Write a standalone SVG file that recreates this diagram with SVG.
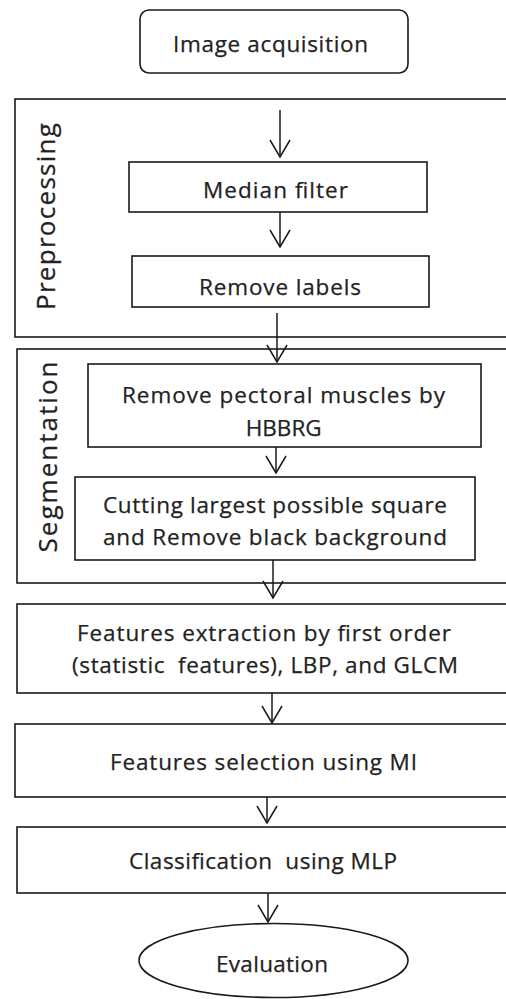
<svg xmlns="http://www.w3.org/2000/svg" width="506" height="999" viewBox="0 0 506 999">
<defs>
<style>
.box{fill:#fff;stroke:#1a1a1a;stroke-width:1.6}
.t{font-family:"Open Sans","Noto Sans","Liberation Sans",sans-serif;font-size:22.5px;fill:#222;stroke:#222;stroke-width:0.25;text-anchor:middle}
.v{font-family:"Open Sans","Noto Sans","Liberation Sans",sans-serif;font-size:26px;fill:#222;stroke:#222;stroke-width:0.25;text-anchor:middle}
.c{fill:none;stroke:#1a1a1a;stroke-width:1.5}
</style>
<marker id="ah" markerUnits="userSpaceOnUse" viewBox="-20 -12 22 24" refX="0" refY="0" markerWidth="22" markerHeight="24" orient="auto" overflow="visible">
<path d="M -17 -10 L 0 0 L -17 10" fill="none" stroke="#1a1a1a" stroke-width="1.5"/>
</marker>
</defs>
<rect width="506" height="999" fill="#fff"/>
<g id="preprocessing">
<rect class="box" x="15" y="99" width="510" height="238"/>
<text class="v" transform="translate(55,216.5) rotate(-90)" textLength="187">Preprocessing</text>
</g>
<g id="segmentation">
<rect class="box" x="17" y="349" width="510" height="234"/>
<text class="v" transform="translate(57,457) rotate(-90)" textLength="191">Segmentation</text>
</g>
<g id="acquisition">
<rect class="box" x="140" y="10" width="268" height="63" rx="9"/>
<text class="t" x="270.5" y="52" textLength="195">Image acquisition</text>
</g>
<g id="median">
<rect class="box" x="129" y="162" width="298" height="50"/>
<text class="t" x="275.5" y="198" textLength="145">Median filter</text>
</g>
<g id="labels">
<rect class="box" x="132" y="256" width="297" height="51"/>
<text class="t" x="280" y="295" textLength="162">Remove labels</text>
</g>
<g id="pectoral">
<rect class="box" x="88" y="364" width="393" height="83"/>
<text class="t" x="283.5" y="403" textLength="323">Remove pectoral muscles by</text>
<text class="t" x="283.7" y="436" textLength="76">HBBRG</text>
</g>
<g id="cutting">
<rect class="box" x="75" y="477" width="400" height="83"/>
<text class="t" x="275" y="513" textLength="344">Cutting largest possible square</text>
<text class="t" x="275" y="545" textLength="344">and Remove black background</text>
</g>
<g id="extraction">
<rect class="box" x="17" y="604" width="510" height="89"/>
<text class="t" x="264" y="641" textLength="374">Features extraction by first order</text>
<text class="t" x="265" y="673" textLength="386" xml:space="preserve">(statistic  features), LBP, and GLCM</text>
</g>
<g id="selection">
<rect class="box" x="15" y="724" width="510" height="73"/>
<text class="t" x="263.5" y="770" textLength="307">Features selection using MI</text>
</g>
<g id="classification">
<rect class="box" x="17" y="827" width="510" height="66"/>
<text class="t" x="263" y="869" textLength="268" xml:space="preserve">Classification  using MLP</text>
</g>
<g id="evaluation">
<ellipse class="box" cx="273.5" cy="960.5" rx="134.5" ry="37"/>
<text class="t" x="272" y="972" textLength="112">Evaluation</text>
</g>
<g id="connectors">
<line class="c" x1="280" y1="110" x2="280" y2="157" marker-end="url(#ah)"/>
<line class="c" x1="280" y1="212" x2="280" y2="247" marker-end="url(#ah)"/>
<line class="c" x1="277" y1="313" x2="277" y2="362" marker-end="url(#ah)"/>
<line class="c" x1="276" y1="447" x2="276" y2="473" marker-end="url(#ah)"/>
<line class="c" x1="273" y1="560" x2="273" y2="598" marker-end="url(#ah)"/>
<line class="c" x1="272" y1="693" x2="272" y2="723" marker-end="url(#ah)"/>
<line class="c" x1="267" y1="797" x2="267" y2="823" marker-end="url(#ah)"/>
<line class="c" x1="268" y1="893" x2="268" y2="922" marker-end="url(#ah)"/>
</g>
</svg>
